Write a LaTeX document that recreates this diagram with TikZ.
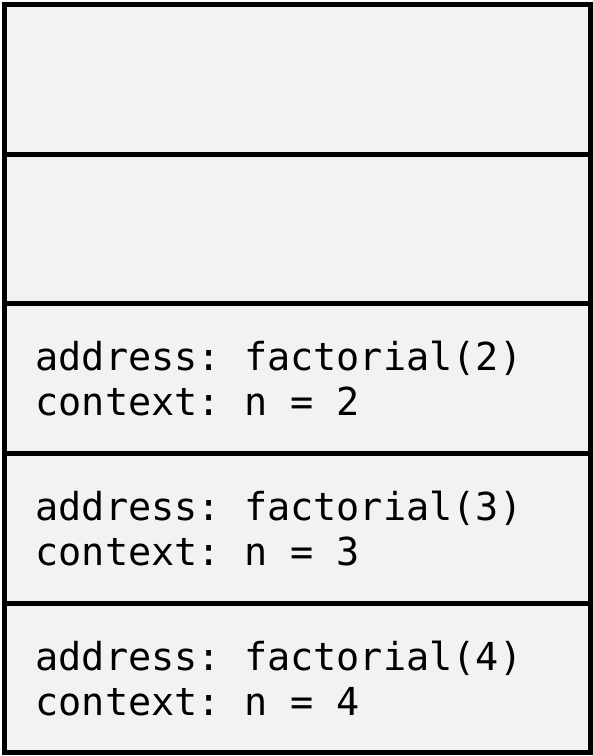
\documentclass[tikz,border=0pt]{standalone}
\usepackage{fontspec}
\usetikzlibrary{positioning}
\newfontfamily\stackfont{DejaVu Sans Mono}
\definecolor{framefill}{HTML}{F2F2F2}
\newcommand\gap{\kern0.602em}

\tikzset{
    frame/.style={rectangle, draw=black, fill=framefill, line width=5pt, outer sep=0pt,
        minimum width=586pt, minimum height=149.7pt, text width=524pt, align=left,
        inner xsep=31pt, inner ysep=0pt, font=\stackfont\fontsize{38.5pt}{45pt}\selectfont}
}

\begin{document}
\begin{tikzpicture}[x=1pt, y=1pt]
            \useasboundingbox (0,0) rectangle (593,756);

            % Stack of frames, top to bottom
            \node[frame] (f1) at (297.5,676.65) {};
            \node[frame, below=0pt of f1] (f2) {};
            \node[frame, below=0pt of f2] (f3) {address:\gap factorial(2)\\context:\gap n\gap=\gap 2};
            \node[frame, below=0pt of f3] (f4) {address:\gap factorial(3)\\context:\gap n\gap=\gap 3};
            \node[frame, below=0pt of f4] (f5) {address:\gap factorial(4)\\context:\gap n\gap=\gap 4};

        \end{tikzpicture}
\end{document}
